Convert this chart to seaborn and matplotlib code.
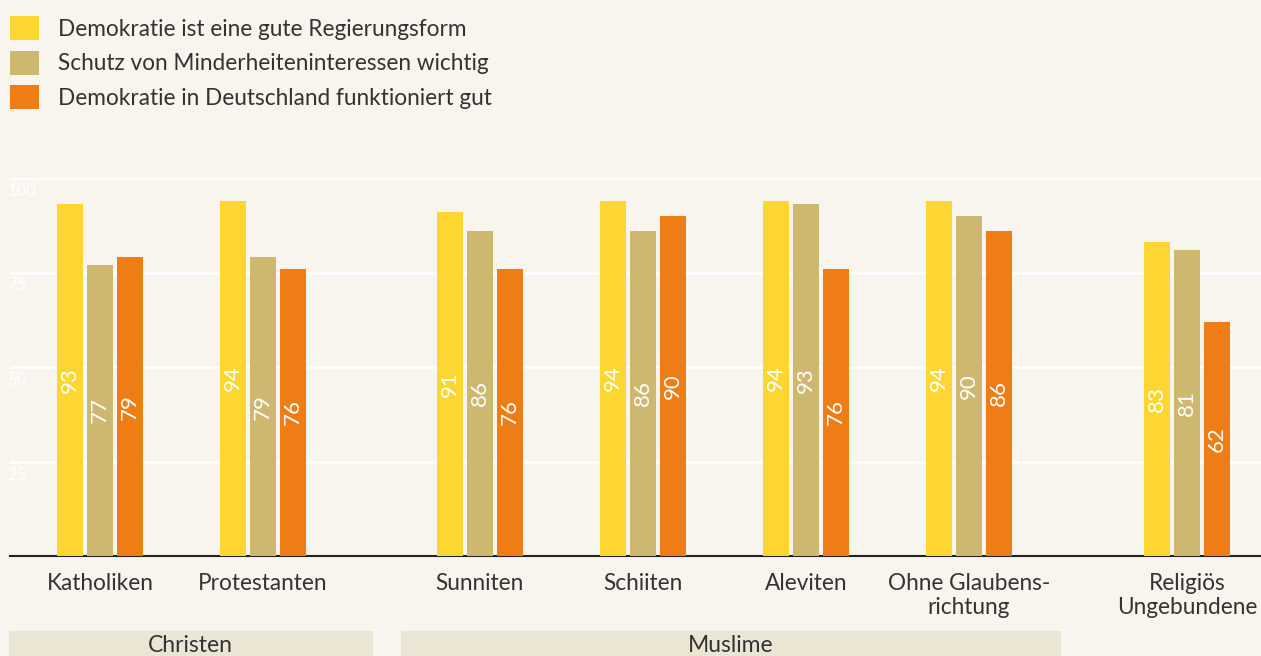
import numpy as np
import pandas as pd
import matplotlib
matplotlib.use("Agg")
import matplotlib.pyplot as plt
import matplotlib.transforms as mtransforms
from matplotlib.patches import Patch, Rectangle
import seaborn as sns

# ---- data ----
categories = ["Katholiken", "Protestanten", "Sunniten", "Schiiten", "Aleviten",
              "Ohne Glaubens-\nrichtung", "Religiös\nUngebundene"]
positions = [0, 1, 2.33, 3.33, 4.33, 5.33, 6.67]
series = ["Demokratie ist eine gute Regierungsform",
          "Schutz von Minderheiteninteressen wichtig",
          "Demokratie in Deutschland funktioniert gut"]
gute_form = [93, 94, 91, 94, 94, 94, 83]
minderheiten = [77, 79, 86, 86, 93, 90, 81]
funktioniert = [79, 76, 76, 90, 76, 86, 62]
colors = ["#FED631", "#CEB86F", "#EF7D15"]
groups = ["Christen", "Muslime"]
group_spans = [(-0.56, 1.675), (1.845, 5.895)]  # band extent in x units

BG = "#F8F5EE"
TXT = "#333333"

rows = []
for s, vals in zip(series, [gute_form, minderheiten, funktioniert]):
    for p, v in zip(positions, vals):
        rows.append({"pos": p, "series": s, "value": v})
df = pd.DataFrame(rows)

sns.set_theme(style="white")
plt.rcParams["font.family"] = ["Lato", "DejaVu Sans"]

fig = plt.figure(figsize=(12.61, 6.56), dpi=100, facecolor=BG)
ax = fig.add_axes([10 / 1261, 100 / 656, 1 - 10 / 1261, 378 / 656])
ax.set_facecolor(BG)

sns.barplot(data=df, x="pos", y="value", hue="series", hue_order=series,
            palette=colors, native_scale=True, width=0.55, gap=0.13,
            saturation=1, ax=ax, legend=False, errorbar=None, zorder=3,
            linewidth=0, edgecolor="none")

for cont in ax.containers:
    ax.bar_label(cont, labels=[f"{int(b.get_height())}" for b in cont],
                 label_type="center", rotation=90, color="white",
                 fontsize=16)

ax.set_ylim(0, 100)
ax.set_xlim(-0.552, 7.123)
ax.set_yticks([25, 50, 75, 100])
ax.set_yticklabels(["25", "50", "75", "100"])
ax.yaxis.grid(True, color="white", linewidth=2, zorder=0)
ax.set_axisbelow(True)
ax.tick_params(axis="y", length=0, pad=2, labelsize=12, labelcolor="white")
shift = mtransforms.ScaledTranslation(0, -5 / 100, fig.dpi_scale_trans)
for lbl in ax.get_yticklabels():
    lbl.set_horizontalalignment("left")
    lbl.set_verticalalignment("top")
    lbl.set_transform(lbl.get_transform() + shift)
ax.set_xticks(positions)
ax.set_xticklabels(categories, fontsize=16.3, color=TXT, linespacing=1.2)
ax.tick_params(axis="x", length=0, pad=12)
ax.set_xlabel("")
ax.set_ylabel("")
for sp in ["top", "right", "left"]:
    ax.spines[sp].set_visible(False)
ax.spines["bottom"].set_color("#222222")
ax.spines["bottom"].set_linewidth(1.5)

# group bands below the category labels
trans = mtransforms.blended_transform_factory(ax.transData, ax.transAxes)
for name, (x0, x1) in zip(groups, group_spans):
    ax.add_patch(Rectangle((x0, -0.27), x1 - x0, 0.072, transform=trans,
                           facecolor="#EAE6D3", edgecolor="none", clip_on=False))
    ax.text((x0 + x1) / 2, -0.237, name, transform=trans, ha="center", va="center",
            fontsize=16.5, color=TXT)

handles = [Patch(facecolor=c, edgecolor="none") for c in colors]
fig.legend(handles, series, loc="upper left", bbox_to_anchor=(0.001, 0.989),
           frameon=False, handlelength=1.25, handleheight=1.25,
           handletextpad=0.85, labelspacing=0.47, borderaxespad=0.3,
           borderpad=0.1, labelcolor=TXT, prop={"size": 16.3})

fig.savefig("out.png", dpi=100, facecolor=BG)
